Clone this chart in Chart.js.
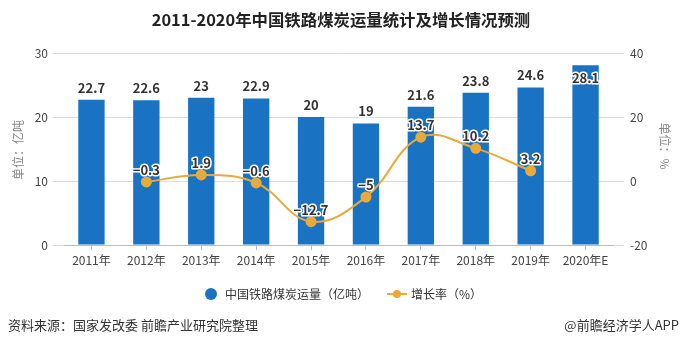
<!DOCTYPE html>
<html><head><meta charset="utf-8">
<script src="https://cdn.jsdelivr.net/npm/chart.js@4/dist/chart.umd.min.js"></script>
<style>html,body{margin:0;padding:0;background:#fff}#wrap{width:682px;height:346px;position:relative}</style>
</head><body><div id="wrap"><canvas id="c" width="682" height="346"></canvas></div>
<script>
const categories = ['2011年','2012年','2013年','2014年','2015年','2016年','2017年','2018年','2019年','2020年E'];
const volume = [22.7,22.6,23,22.9,20,19,21.6,23.8,24.6,28.1];
const growth = [null,-0.3,1.9,-0.6,-12.7,-5,13.7,10.2,3.2,null];
const leftTicks = [0,10,20,30];
const rightTicks = [-20,0,20,40];

const FONT = '"Noto Sans CJK SC","Noto Sans",sans-serif';
const BLUE = '#1a73c2';
const GOLD = '#e9aa3a';

function fmt(v){ return v < 0 ? '\u2212' + Math.abs(v) : String(v); }

const decor = {
  id:'decor',
  afterDraw(chart){
    const ctx = chart.ctx, ca = chart.chartArea;
    ctx.save();
    // title
    ctx.fillStyle = '#222';
    ctx.font = 'bold 16.4px ' + FONT;
    ctx.textAlign = 'center'; ctx.textBaseline = 'middle';
    ctx.fillText('2011-2020年中国铁路煤炭运量统计及增长情况预测', 341, 20);
    // axis titles
    ctx.fillStyle = '#888';
    ctx.font = '12px ' + FONT;
    ctx.save(); ctx.translate(18, 150); ctx.rotate(-Math.PI/2);
    ctx.fillText('单位：亿吨', 0, 0); ctx.restore();
    ctx.save(); ctx.translate(665, 146); ctx.rotate(Math.PI/2);
    ctx.fillText('单位：%', 0, 0); ctx.restore();
    // legend
    ctx.textAlign = 'left';
    ctx.fillStyle = BLUE;
    ctx.beginPath(); ctx.arc(211, 294, 6, 0, Math.PI*2); ctx.fill();
    ctx.fillStyle = '#333'; ctx.font = '12px ' + FONT;
    ctx.fillText('中国铁路煤炭运量（亿吨）', 225, 294);
    ctx.strokeStyle = GOLD; ctx.lineWidth = 2;
    ctx.beginPath(); ctx.moveTo(387, 294); ctx.lineTo(407, 294); ctx.stroke();
    ctx.fillStyle = GOLD; ctx.beginPath(); ctx.arc(397, 294, 4, 0, Math.PI*2); ctx.fill();
    ctx.fillStyle = '#333';
    ctx.fillText('增长率（%）', 411, 294);
    // footer
    ctx.font = '13px ' + FONT; ctx.fillStyle = '#333';
    ctx.fillText('资料来源：国家发改委 前瞻产业研究院整理', 8, 325);
    ctx.textAlign = 'right';
    ctx.fillText('@前瞻经济学人APP', 679, 325);

    // value labels
    ctx.textAlign = 'center'; ctx.textBaseline = 'middle';
    ctx.font = 'bold 13px ' + FONT;
    ctx.lineJoin = 'round';
    const barMeta = chart.getDatasetMeta(0);
    barMeta.data.forEach((b, i) => {
      let y = b.y - 12;
      if (y - 7 < ca.top) y = b.y + 13;
      ctx.strokeStyle = '#fff'; ctx.lineWidth = 3;
      ctx.strokeText(fmt(volume[i]), b.x, y);
      ctx.fillStyle = '#333';
      ctx.fillText(fmt(volume[i]), b.x, y);
    });
    const lineMeta = chart.getDatasetMeta(1);
    lineMeta.data.forEach((p, i) => {
      if (growth[i] === null) return;
      const y = p.y - 12;
      ctx.strokeStyle = '#fff'; ctx.lineWidth = 3;
      ctx.strokeText(fmt(growth[i]), p.x, y);
      ctx.fillStyle = '#333';
      ctx.fillText(fmt(growth[i]), p.x, y);
    });
    ctx.restore();
  }
};

new Chart(document.getElementById('c'), {
  data: {
    labels: categories,
    datasets: [
      { type:'bar', data: volume, yAxisID:'y', backgroundColor: BLUE,
        categoryPercentage: 1, barPercentage: 0.48, order: 2 },
      { type:'line', data: growth, yAxisID:'y1', borderColor: GOLD, backgroundColor: GOLD,
        borderWidth: 2, pointRadius: 4.5, pointHoverRadius: 4.5, tension: 0.4,
        spanGaps: false, order: 1 }
    ]
  },
  options: {
    responsive: false, animation: false, devicePixelRatio: 1,
    layout: { padding: { top: 53, left: 0, right: 0, bottom: 0 } },
    plugins: { legend: { display:false }, tooltip: { enabled:false }, title: { display:false } },
    scales: {
      x: {
        offset: true,
        grid: { offset:false, drawOnChartArea:false, drawTicks:true, tickLength:5, color:'#bbb' },
        border: { display:true, color:'#bbb' },
        ticks: { color:'#444', font:{ size:12, family: FONT }, padding: 3, maxRotation:0, autoSkip:false },
        afterFit(s){ s.height = 101; }
      },
      y: {
        position:'left', min:0, max:30,
        afterBuildTicks(s){ s.ticks = leftTicks.map(v => ({value:v})); },
        grid: { color:'#ddd', drawTicks:true, tickLength:11 },
        border: { display:false },
        ticks: { color:'#444', font:{ size:12, family: FONT }, padding: 5 },
        afterFit(s){ s.width = 64; }
      },
      y1: {
        position:'right', min:-20, max:40,
        afterBuildTicks(s){ s.ticks = rightTicks.map(v => ({value:v})); },
        grid: { drawOnChartArea:false, color:'#ddd', drawTicks:true, tickLength:11 },
        border: { display:false },
        ticks: { color:'#444', font:{ size:12, family: FONT }, padding: 6 },
        afterFit(s){ s.width = 69; }
      }
    }
  },
  plugins: [decor]
});
</script>
</body></html>
